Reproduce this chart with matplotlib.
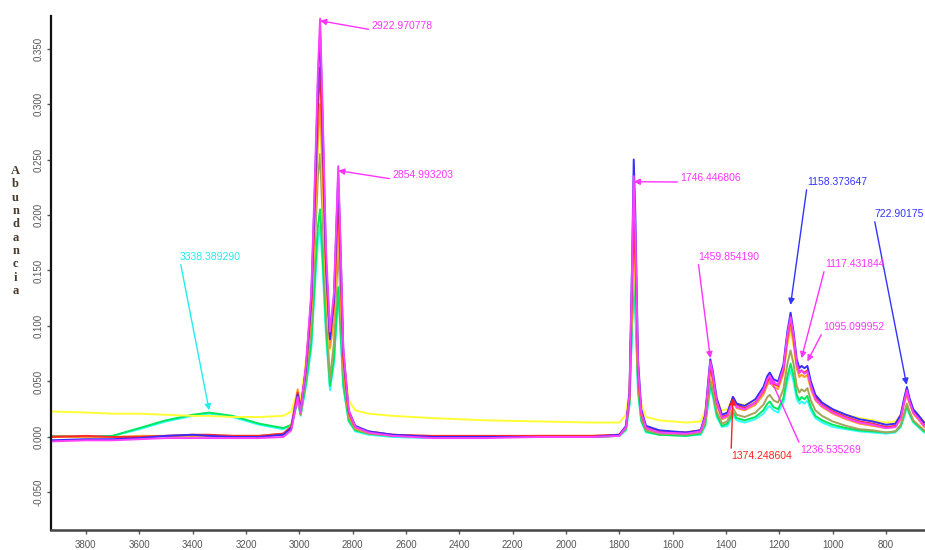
import matplotlib
matplotlib.use('Agg')
import matplotlib.pyplot as plt
from matplotlib.ticker import FormatStrFormatter

# numero de onda (cm-1), comun a todos los espectros
wn = [3930, 3800, 3700, 3600, 3500, 3400, 3338, 3250, 3150, 3060,
      3030, 3006, 2995, 2975, 2955, 2940, 2930, 2922, 2913, 2900,
      2885, 2870, 2860, 2854, 2846, 2835, 2815, 2790, 2740, 2650,
      2500, 2300, 2100, 1900, 1800, 1775, 1762, 1752, 1746, 1740,
      1730, 1718, 1700, 1650, 1550, 1495, 1478, 1465, 1459, 1450,
      1435, 1415, 1395, 1374, 1360, 1330, 1290, 1260, 1245, 1236,
      1222, 1205, 1185, 1170, 1158, 1147, 1135, 1125, 1117, 1106,
      1095, 1082, 1065, 1040, 1000, 950, 900, 850, 800, 765,
      745, 732, 722, 712, 698, 680, 657]

cyan = [0.000, 0.000, 0.001, 0.007, 0.014, 0.019, 0.021, 0.018, 0.011, 0.007,
        0.010, 0.032, 0.019, 0.045, 0.080, 0.140, 0.178, 0.190, 0.155, 0.092,
        0.042, 0.066, 0.105, 0.130, 0.096, 0.045, 0.014, 0.005, 0.002, 0.000,
        -0.001, 0.000, 0.000, 0.000, 0.001, 0.006, 0.028, 0.098, 0.132, 0.110,
        0.040, 0.014, 0.004, 0.002, 0.001, 0.002, 0.010, 0.033, 0.043, 0.037,
        0.018, 0.009, 0.010, 0.019, 0.015, 0.013, 0.016, 0.021, 0.026, 0.028,
        0.024, 0.022, 0.031, 0.050, 0.060, 0.050, 0.034, 0.030, 0.032, 0.030,
        0.033, 0.024, 0.017, 0.013, 0.009, 0.007, 0.005, 0.004, 0.003, 0.004,
        0.009, 0.018, 0.027, 0.020, 0.013, 0.009, 0.004]

verde = [0.001, 0.000, 0.001, 0.008, 0.015, 0.020, 0.022, 0.019, 0.012, 0.008,
         0.011, 0.034, 0.020, 0.048, 0.085, 0.150, 0.190, 0.205, 0.165, 0.100,
         0.046, 0.070, 0.110, 0.135, 0.100, 0.047, 0.015, 0.006, 0.003, 0.001,
         0.000, 0.000, 0.000, 0.000, 0.001, 0.007, 0.030, 0.105, 0.145, 0.120,
         0.043, 0.015, 0.005, 0.002, 0.001, 0.003, 0.011, 0.036, 0.047, 0.040,
         0.020, 0.010, 0.012, 0.022, 0.017, 0.015, 0.018, 0.024, 0.030, 0.032,
         0.027, 0.025, 0.035, 0.055, 0.066, 0.055, 0.038, 0.033, 0.036, 0.034,
         0.037, 0.027, 0.019, 0.015, 0.011, 0.008, 0.006, 0.005, 0.004, 0.005,
         0.010, 0.020, 0.028, 0.021, 0.014, 0.010, 0.005]

oliva = [0.001, 0.000, 0.000, 0.000, 0.001, 0.001, 0.001, 0.001, 0.001, 0.002,
         0.008, 0.035, 0.020, 0.055, 0.100, 0.180, 0.235, 0.255, 0.200, 0.115,
         0.052, 0.085, 0.140, 0.172, 0.125, 0.058, 0.018, 0.007, 0.003, 0.001,
         0.000, 0.000, 0.000, 0.000, 0.001, 0.008, 0.034, 0.125, 0.175, 0.145,
         0.052, 0.018, 0.006, 0.003, 0.002, 0.004, 0.013, 0.040, 0.052, 0.044,
         0.023, 0.012, 0.014, 0.026, 0.020, 0.018, 0.022, 0.029, 0.036, 0.038,
         0.033, 0.031, 0.043, 0.066, 0.078, 0.066, 0.046, 0.040, 0.043, 0.041,
         0.044, 0.033, 0.024, 0.019, 0.014, 0.010, 0.007, 0.006, 0.004, 0.005,
         0.011, 0.022, 0.030, 0.023, 0.015, 0.011, 0.006]

amarillo = [0.023, 0.022, 0.021, 0.021, 0.020, 0.019, 0.019, 0.018, 0.018, 0.019,
            0.023, 0.042, 0.032, 0.070, 0.118, 0.205, 0.262, 0.285, 0.232, 0.140,
            0.078, 0.108, 0.165, 0.195, 0.145, 0.075, 0.033, 0.024, 0.021, 0.019,
            0.017, 0.015, 0.014, 0.013, 0.013, 0.020, 0.045, 0.125, 0.168, 0.140,
            0.060, 0.030, 0.018, 0.015, 0.013, 0.014, 0.024, 0.050, 0.060, 0.052,
            0.033, 0.024, 0.025, 0.035, 0.030, 0.029, 0.033, 0.041, 0.048, 0.050,
            0.046, 0.045, 0.057, 0.083, 0.095, 0.082, 0.062, 0.055, 0.056, 0.054,
            0.055, 0.044, 0.034, 0.029, 0.024, 0.020, 0.017, 0.015, 0.013, 0.014,
            0.020, 0.032, 0.038, 0.031, 0.024, 0.019, 0.014]

naranja = [0.000, 0.000, 0.000, 0.001, 0.001, 0.001, 0.001, 0.001, 0.001, 0.003,
           0.010, 0.043, 0.027, 0.060, 0.112, 0.205, 0.270, 0.300, 0.240, 0.140,
           0.080, 0.105, 0.160, 0.190, 0.140, 0.065, 0.020, 0.008, 0.004, 0.002,
           0.000, 0.000, 0.001, 0.001, 0.002, 0.009, 0.036, 0.138, 0.195, 0.158,
           0.056, 0.020, 0.008, 0.005, 0.004, 0.006, 0.017, 0.047, 0.060, 0.051,
           0.029, 0.016, 0.018, 0.032, 0.026, 0.024, 0.029, 0.038, 0.047, 0.050,
           0.045, 0.043, 0.057, 0.085, 0.100, 0.085, 0.062, 0.054, 0.056, 0.054,
           0.056, 0.043, 0.033, 0.027, 0.021, 0.016, 0.012, 0.010, 0.008, 0.009,
           0.016, 0.030, 0.038, 0.030, 0.021, 0.016, 0.009]

rojo = [0.000, 0.001, 0.000, 0.000, 0.001, 0.002, 0.002, 0.001, 0.001, 0.003,
        0.009, 0.040, 0.025, 0.062, 0.120, 0.220, 0.295, 0.333, 0.265, 0.155,
        0.090, 0.120, 0.180, 0.218, 0.160, 0.072, 0.022, 0.009, 0.005, 0.002,
        0.001, 0.001, 0.001, 0.001, 0.002, 0.009, 0.036, 0.135, 0.195, 0.160,
        0.058, 0.021, 0.008, 0.005, 0.004, 0.006, 0.018, 0.050, 0.064, 0.054,
        0.031, 0.018, 0.020, 0.036, 0.029, 0.026, 0.031, 0.041, 0.050, 0.053,
        0.048, 0.046, 0.060, 0.090, 0.106, 0.090, 0.066, 0.058, 0.060, 0.058,
        0.060, 0.047, 0.036, 0.029, 0.023, 0.018, 0.014, 0.012, 0.009, 0.010,
        0.018, 0.033, 0.041, 0.032, 0.023, 0.018, 0.011]

azul = [-0.003, -0.002, -0.002, -0.001, 0.001, 0.002, 0.001, 0.000, 0.000, 0.002,
        0.008, 0.038, 0.024, 0.062, 0.125, 0.235, 0.320, 0.366, 0.290, 0.160,
        0.088, 0.125, 0.195, 0.236, 0.175, 0.078, 0.024, 0.010, 0.005, 0.002,
        0.000, 0.000, 0.000, 0.000, 0.002, 0.010, 0.040, 0.160, 0.250, 0.200,
        0.070, 0.025, 0.010, 0.006, 0.004, 0.006, 0.020, 0.055, 0.070, 0.060,
        0.035, 0.020, 0.022, 0.036, 0.030, 0.028, 0.034, 0.045, 0.055, 0.058,
        0.052, 0.050, 0.065, 0.095, 0.112, 0.095, 0.070, 0.062, 0.064, 0.062,
        0.064, 0.050, 0.038, 0.031, 0.025, 0.020, 0.016, 0.014, 0.011, 0.012,
        0.020, 0.035, 0.045, 0.035, 0.025, 0.020, 0.013]

magenta = [-0.004, -0.003, -0.003, -0.002, -0.001, -0.001, -0.001, -0.001, -0.001, 0.000,
           0.006, 0.036, 0.022, 0.065, 0.130, 0.245, 0.330, 0.377, 0.300, 0.170,
           0.095, 0.130, 0.200, 0.244, 0.180, 0.080, 0.024, 0.009, 0.004, 0.001,
           -0.001, -0.001, 0.000, 0.000, 0.001, 0.009, 0.038, 0.155, 0.235, 0.185,
           0.065, 0.022, 0.008, 0.004, 0.003, 0.005, 0.018, 0.052, 0.068, 0.057,
           0.032, 0.017, 0.019, 0.033, 0.027, 0.025, 0.031, 0.042, 0.052, 0.055,
           0.049, 0.047, 0.062, 0.092, 0.108, 0.092, 0.066, 0.058, 0.060, 0.057,
           0.059, 0.046, 0.034, 0.028, 0.022, 0.017, 0.013, 0.011, 0.008, 0.009,
           0.017, 0.032, 0.042, 0.032, 0.022, 0.017, 0.010]

espectros = [cyan, verde, oliva, amarillo, naranja, rojo, azul, magenta]
colores = ['#33ffff', '#00e85c', '#a3a35a', '#ffff33', '#ff9933', '#ff2a2a', '#3a2bff', '#ff40ff']

# picos marcados
picos_txt = ['2922.970778', '2854.993203', '1746.446806', '1158.373647', '722.90175',
             '1459.854190', '1117.431844', '1095.099952', '1374.248604', '1236.535269',
             '3338.389290']
picos_x = [2922, 2854, 1746, 1158, 723, 1459, 1117, 1095, 1374, 1236, 3338]
picos_y = [0.375, 0.240, 0.230, 0.119, 0.047, 0.071, 0.071, 0.068, 0.035, 0.054, 0.024]
texto_x = [2730, 2652, 1572, 1096, 845, 1505, 1029, 1036, 1381, 1122, 3447]
texto_y = [0.366, 0.2315, 0.2288, 0.2252, 0.1964, 0.1577, 0.1514, 0.0946, -0.0126, -0.0072, 0.1577]
picos_col = ['#ff33ff', '#ff33ff', '#ff33ff', '#3333ff', '#3333ff',
             '#ff33ff', '#ff33ff', '#ff33ff', '#ff2020', '#ff33ff', '#22eeee']

fig = plt.figure(figsize=(9.25, 5.5), dpi=100)
ax = fig.add_axes([0.0551, 0.0364, 0.9449, 0.9345])

for serie, c in zip(espectros, colores):
    ax.plot(wn, serie, color=c, lw=1.4)

for txt, px, py, tx, ty, c in zip(picos_txt, picos_x, picos_y, texto_x, texto_y, picos_col):
    abajo = ty < 0
    ax.annotate(txt, xy=(px, py), xytext=(tx, ty), color=c, fontsize=7.5,
                family='Liberation Sans', ha='left', va='top' if abajo else 'bottom',
                arrowprops=dict(arrowstyle='-|>', color=c, lw=1, shrinkA=0, shrinkB=0,
                                mutation_scale=9, relpos=(0, 1) if abajo else (0, 0.1)),
                annotation_clip=False)

ax.set_xlim(3931, 654)
ax.set_ylim(-0.0838, 0.3793)
ax.set_xticks(range(3800, 700, -200))
ax.set_yticks([-0.05, 0.0, 0.05, 0.1, 0.15, 0.2, 0.25, 0.3, 0.35])
ax.yaxis.set_major_formatter(FormatStrFormatter('%.3f'))

for lab in ax.get_yticklabels():
    lab.set_rotation(90)
    lab.set_va('center')
ax.tick_params(axis='both', labelsize=7, colors='#555555', length=3, width=1)
ax.tick_params(axis='y', pad=2)
ax.tick_params(axis='x', pad=4)
for lab in ax.get_xticklabels() + ax.get_yticklabels():
    lab.set_family('Liberation Sans')

ax.spines['top'].set_visible(False)
ax.spines['right'].set_visible(False)
ax.spines['left'].set_linewidth(1.6)
ax.spines['left'].set_color('#111111')
ax.spines['bottom'].set_linewidth(1.8)
ax.spines['bottom'].set_color('#444444')

fig.text(0.017, 0.70, '\n'.join('Abundancia'), fontsize=9, family='Liberation Serif',
         fontweight='bold', color='#4a3a2a', ha='center', va='top', linespacing=1.15)

fig.savefig('out.png', dpi=100)
